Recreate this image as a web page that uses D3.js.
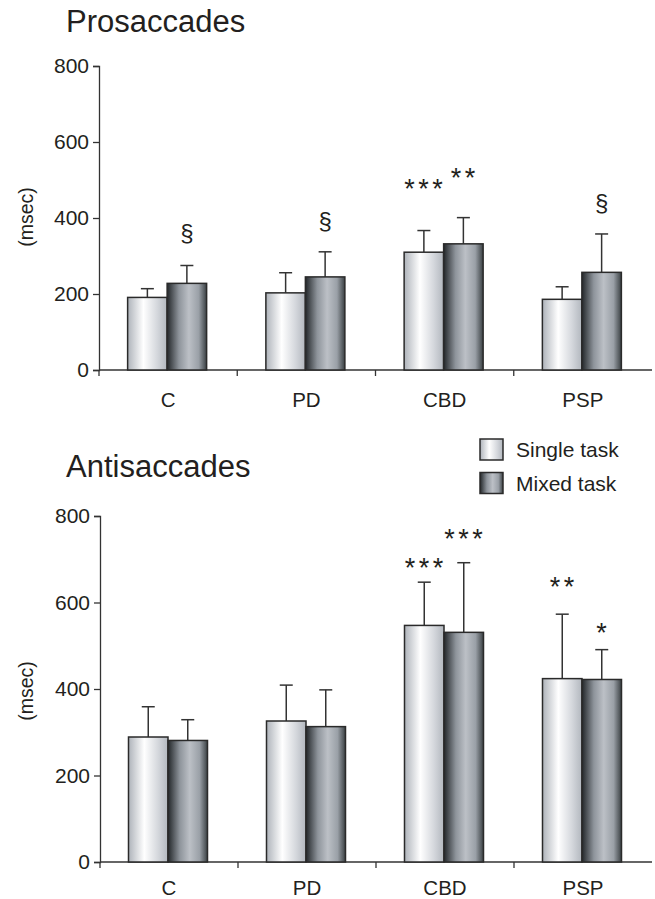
<!DOCTYPE html>
<html>
<head>
<meta charset="utf-8">
<script src="https://cdn.jsdelivr.net/npm/d3@7"></script>
<style>
  body { margin: 0; background: #fff; }
  text { font-family: "Liberation Sans", Arial, sans-serif; fill: #231f20; }
</style>
</head>
<body>
<script>
var w = 655;
var h = 899;

var categories = ["C", "PD", "CBD", "PSP"];
var series = ["Single task", "Mixed task"];
var yTicks = [0, 200, 400, 600, 800];

// Prosaccades latency (msec) and SD
var proSingle = [191, 203, 310, 186];
var proSingleErr = [23, 53, 57, 33];
var proMixed = [228, 245, 332, 257];
var proMixedErr = [47, 66, 69, 101];
var proMarks = [["", "§"], ["", "§"], ["***", "**"], ["", "§"]];
var proMarkAt = [[0, 361], [0, 391], [492, 521], [0, 439]];

// Antisaccades latency (msec) and SD
var antiSingle = [289, 326, 547, 424];
var antiSingleErr = [70, 83, 100, 149];
var antiMixed = [281, 313, 531, 422];
var antiMixedErr = [48, 85, 161, 69];
var antiMarks = [["", ""], ["", ""], ["***", "***"], ["**", "*"]];
var antiMarkAt = [[0, 0], [0, 0], [694, 760], [649, 543]];

var svg = d3.select("body")
  .append("svg")
  .attr("width", w)
  .attr("height", h);

var defs = svg.append("defs");

var g1 = defs.append("linearGradient").attr("id", "gradSingle");
g1.append("stop").attr("offset", "0%").attr("stop-color", "#aeb3ba");
g1.append("stop").attr("offset", "40%").attr("stop-color", "#ffffff");
g1.append("stop").attr("offset", "75%").attr("stop-color", "#d4d7dc");
g1.append("stop").attr("offset", "100%").attr("stop-color", "#b2b7be");

var g2 = defs.append("linearGradient").attr("id", "gradMixed");
g2.append("stop").attr("offset", "0%").attr("stop-color", "#23272a");
g2.append("stop").attr("offset", "30%").attr("stop-color", "#8e949b");
g2.append("stop").attr("offset", "55%").attr("stop-color", "#bcc0c6");
g2.append("stop").attr("offset", "80%").attr("stop-color", "#9aa0a7");
g2.append("stop").attr("offset", "100%").attr("stop-color", "#3a4043");

var fills = ["url(#gradSingle)", "url(#gradMixed)"];

function panel(cfg) {
  var xScale = d3.scaleBand()
    .domain(categories)
    .range([cfg.left, 652])
    .paddingInner(0)
    .paddingOuter(0);

  var yScale = d3.scaleLinear()
    .domain([0, 800])
    .range([cfg.bottom, cfg.top]);

  var groupW = 79;
  var xSub = d3.scaleBand()
    .domain(d3.range(series.length))
    .range([0, groupW]);

  var g = svg.append("g");

  // title
  g.append("text")
    .attr("x", 66)
    .attr("y", cfg.titleY)
    .attr("font-size", 31)
    .text(cfg.title);

  // y axis
  var yAxis = d3.axisLeft(yScale)
    .tickValues(yTicks)
    .tickSize(6)
    .tickPadding(4)
    .tickFormat(d3.format("d"));
  var ya = g.append("g")
    .attr("transform", "translate(" + cfg.left + ",0)")
    .call(yAxis);
  ya.select(".domain").attr("stroke", "#333").attr("stroke-width", 1.3);
  ya.selectAll(".tick line").attr("stroke", "#333").attr("stroke-width", 1.3);
  ya.selectAll(".tick text")
    .attr("font-size", 21)
    .attr("font-family", "Liberation Sans, Arial, sans-serif")
    .attr("fill", "#231f20");

  // y label
  g.append("text")
    .attr("transform", "translate(33," + cfg.labelY + ") rotate(-90)")
    .attr("text-anchor", "middle")
    .attr("font-size", 19.5)
    .text("(msec)");

  // x axis line with boundary ticks
  g.append("line")
    .attr("x1", cfg.left).attr("x2", 652)
    .attr("y1", cfg.bottom).attr("y2", cfg.bottom)
    .attr("stroke", "#333").attr("stroke-width", 1.3);
  g.selectAll(".xtick")
    .data(categories)
    .enter()
    .append("line")
    .attr("x1", function(d) { return xScale(d); })
    .attr("x2", function(d) { return xScale(d); })
    .attr("y1", cfg.bottom)
    .attr("y2", cfg.bottom + 6)
    .attr("stroke", "#333").attr("stroke-width", 1.3);

  g.selectAll(".xlab")
    .data(categories)
    .enter()
    .append("text")
    .attr("x", function(d) { return xScale(d) + xScale.bandwidth() / 2; })
    .attr("y", cfg.bottom + cfg.labelGap)
    .attr("text-anchor", "middle")
    .attr("font-size", 20.5)
    .text(function(d) { return d; });

  var rows = [];
  categories.forEach(function(c, i) {
    cfg.values.forEach(function(vals, s) {
      rows.push({
        cat: c, s: s, v: vals[i], e: cfg.errs[s][i],
        mark: cfg.marks[i][s], markAt: cfg.markAt[i][s]
      });
    });
  });

  function barX(d) {
    return xScale(d.cat) + (xScale.bandwidth() - groupW) / 2 - 1 + xSub(d.s);
  }
  function barMid(d) { return barX(d) + xSub.bandwidth() / 2; }

  // error bars (drawn first so bar outline sits on top)
  g.selectAll(".err")
    .data(rows)
    .enter()
    .append("line")
    .attr("x1", barMid).attr("x2", barMid)
    .attr("y1", function(d) { return yScale(d.v); })
    .attr("y2", function(d) { return yScale(d.v + d.e); })
    .attr("stroke", "#333").attr("stroke-width", 1.5);
  g.selectAll(".cap")
    .data(rows)
    .enter()
    .append("line")
    .attr("x1", function(d) { return barMid(d) - 6.5; })
    .attr("x2", function(d) { return barMid(d) + 6.5; })
    .attr("y1", function(d) { return yScale(d.v + d.e); })
    .attr("y2", function(d) { return yScale(d.v + d.e); })
    .attr("stroke", "#333").attr("stroke-width", 1.5);

  g.selectAll(".bar")
    .data(rows)
    .enter()
    .append("rect")
    .attr("x", barX)
    .attr("y", function(d) { return yScale(d.v); })
    .attr("width", xSub.bandwidth())
    .attr("height", function(d) { return cfg.bottom - yScale(d.v); })
    .attr("fill", function(d) { return fills[d.s]; })
    .attr("stroke", "#2a2a2a")
    .attr("stroke-width", 1.5);

  // significance marks
  g.selectAll(".mark")
    .data(rows.filter(function(d) { return d.mark !== ""; }))
    .enter()
    .append("text")
    .attr("x", function(d) { return barMid(d) + (d.mark === "§" ? 0 : 1.5); })
    .attr("y", function(d) {
      var c = yScale(d.markAt);
      return d.mark === "§" ? c + 8 : c + 15;
    })
    .attr("text-anchor", "middle")
    .attr("font-size", function(d) { return d.mark === "§" ? 24 : 27; })
    .attr("letter-spacing", function(d) { return d.mark === "§" ? 0 : 3.5; })
    .text(function(d) { return d.mark; });

  return g;
}

panel({
  title: "Prosaccades", titleY: 32, labelY: 217, labelGap: 37,
  left: 99, top: 66, bottom: 370,
  values: [proSingle, proMixed], errs: [proSingleErr, proMixedErr],
  marks: proMarks, markAt: proMarkAt
});

panel({
  title: "Antisaccades", titleY: 477, labelY: 691, labelGap: 33,
  left: 100, top: 516, bottom: 862,
  values: [antiSingle, antiMixed], errs: [antiSingleErr, antiMixedErr],
  marks: antiMarks, markAt: antiMarkAt
});

// legend
var legend = svg.append("g").attr("transform", "translate(480,439)");
legend.selectAll("rect")
  .data(series)
  .enter()
  .append("rect")
  .attr("x", 0)
  .attr("y", function(d, i) { return i * 33.5; })
  .attr("width", 23)
  .attr("height", 21)
  .attr("fill", function(d, i) { return fills[i]; })
  .attr("stroke", "#2a2a2a")
  .attr("stroke-width", 1.5);
legend.selectAll("text")
  .data(series)
  .enter()
  .append("text")
  .attr("x", 36)
  .attr("y", function(d, i) { return 18 + i * 33.5; })
  .attr("font-size", 21)
  .text(function(d) { return d; });
</script>
</body>
</html>
